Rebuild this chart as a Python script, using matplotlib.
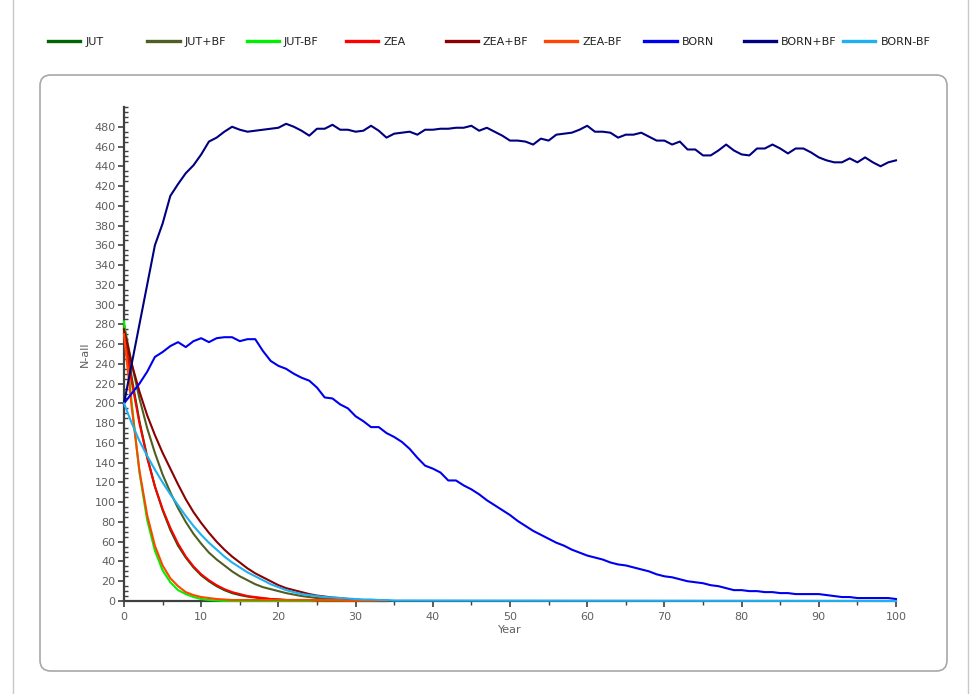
import matplotlib
matplotlib.use("Agg")
import matplotlib.pyplot as plt
from matplotlib.lines import Line2D
from matplotlib.patches import FancyBboxPatch
from matplotlib.ticker import FixedLocator, MultipleLocator

W, H = 972, 694

# --- data ---
SERIES = ["JUT", "JUT+BF", "JUT-BF", "ZEA", "ZEA+BF", "ZEA-BF", "BORN", "BORN+BF", "BORN-BF"]
COLORS = ["#006400", "#4F5F22", "#00F000", "#FF0000", "#8B0000", "#FF4500", "#0000F0", "#000080", "#1EB0F0"]

years_full = list(range(101))
years_short = list(range(35))
years_born_bf = list(range(36)) + [100]

jut = [278, 226, 182, 146, 116, 92, 72, 56, 44, 34, 26, 20, 15, 11, 8, 6, 4.5, 3.5, 2.5, 2,
       1.5, 1, 1, 0.5, 0.5, 0.5, 0, 0, 0, 0, 0, 0, 0, 0, 0]
jut_bf = [280, 240, 205, 175, 150, 128, 110, 94, 80, 68, 58, 49, 42, 36, 30, 25, 21, 17, 14, 12,
          10, 8, 6.5, 5, 4, 3, 2.5, 2, 1.5, 1, 1, 0.5, 0.5, 0, 0]
jut_minus_bf = [283, 200, 130, 82, 51, 31, 19, 11, 7, 4, 2, 1, 0.5, 0, 0, 0, 0, 0, 0, 0,
                0, 0, 0, 0, 0, 0, 0, 0, 0, 0, 0, 0, 0, 0, 0]
zea = [270, 222, 180, 145, 116, 93, 74, 58, 45, 35, 27, 21, 16, 12, 9, 7, 5, 4, 3, 2,
       1.5, 1, 1, 1, 1, 0.5, 0.5, 0.5, 0.5, 0.5, 0.5, 0.5, 0.5, 0.5, 0.5]
zea_bf = [275, 240, 212, 188, 168, 150, 134, 118, 103, 90, 79, 69, 60, 52, 45, 39, 33, 28, 24, 20,
          16, 13, 11, 9, 7, 5.5, 4.5, 3.5, 3, 2, 1.5, 1, 1, 0.5, 0.5]
zea_minus_bf = [270, 196, 132, 87, 56, 36, 23, 15, 9, 6, 4, 3, 2, 1.5, 1, 1, 1, 1, 1, 1,
                1, 1, 1, 1, 1, 1, 1, 1, 1, 0.5, 0.5, 0.5, 0.5, 0.5, 0.5]
born = [200, 210, 220, 232, 247, 252, 258, 262, 257, 263, 266, 262, 266, 267, 267, 263, 265, 265, 253, 243,
        238, 235, 230, 226, 223, 216, 206, 205, 199, 195, 187, 182, 176, 176, 170, 166, 161, 154, 145, 137,
        134, 130, 122, 122, 117, 113, 108, 102, 97, 92, 87, 81, 76, 71, 67, 63, 59, 56, 52, 49,
        46, 44, 42, 39, 37, 36, 34, 32, 30, 27, 25, 24, 22, 20, 19, 18, 16, 15, 13, 11,
        11, 10, 10, 9, 9, 8, 8, 7, 7, 7, 7, 6, 5, 4, 4, 3, 3, 3, 3, 3, 2]
born_bf = [200, 240, 280, 320, 360, 382, 410, 422, 433, 441, 452, 465, 469, 475, 480, 477, 475, 476, 477, 478,
           479, 483, 480, 476, 471, 478, 478, 482, 477, 477, 475, 476, 481, 476, 469, 473, 474, 475, 472, 477,
           477, 478, 478, 479, 479, 481, 476, 479, 475, 471, 466, 466, 465, 462, 468, 466, 472, 473, 474, 477,
           481, 475, 475, 474, 469, 472, 472, 474, 470, 466, 466, 462, 465, 457, 457, 451, 451, 456, 462, 456,
           452, 451, 458, 458, 462, 458, 453, 458, 458, 454, 449, 446, 444, 444, 448, 444, 449, 444, 440, 444, 446]
born_minus_bf = [200, 180, 162, 147, 133, 120, 108, 97, 86, 76, 67, 59, 52, 45, 39, 34, 29, 25, 21, 17,
                 14, 11, 9, 7, 6, 5, 4, 3.5, 3, 2.5, 2, 1.5, 1.5, 1, 1, 0.5, 0]

XS = [years_short, years_short, years_short, years_short, years_short, years_short,
      years_full, years_full, years_born_bf]
YS = [jut, jut_bf, jut_minus_bf, zea, zea_bf, zea_minus_bf, born, born_bf, born_minus_bf]

plt.rcParams['font.family'] = ['DejaVu Sans']

fig = plt.figure(figsize=(W / 100, H / 100), dpi=100)
fig.patch.set_facecolor("white")

# outer frame lines and rounded panel, kept behind the axes
for xp in (13, 968):
    fig.add_artist(Line2D([xp / W, xp / W], [0, 1], color="#C8C8C8", lw=1, zorder=-2))
panel = FancyBboxPatch((40 / W, 1 - 671 / H), 907 / W, 596 / H,
                       boxstyle="round,pad=0,rounding_size=0.011",
                       mutation_aspect=W / H, transform=fig.transFigure,
                       facecolor="white", edgecolor="#A8A8A8", lw=1.2, zorder=-1)
fig.add_artist(panel)

ax = fig.add_axes([124 / W, 1 - 601 / H, 772 / W, 494 / H])
ax.set_facecolor("none")
ax.set_zorder(2)

for x, y, c in zip(XS, YS, COLORS):
    ax.plot(x, y, color=c, lw=1.5, zorder=3, clip_on=False)

ax.set_xlim(0, 100)
ax.set_ylim(0, 500)
ax.xaxis.set_major_locator(MultipleLocator(10))
ax.xaxis.set_minor_locator(MultipleLocator(5))
ax.yaxis.set_major_locator(FixedLocator(list(range(0, 481, 20))))
ax.yaxis.set_minor_locator(MultipleLocator(5))

for s in ("top", "right"):
    ax.spines[s].set_visible(False)
for s in ("left", "bottom"):
    ax.spines[s].set_color("#404040")
    ax.spines[s].set_linewidth(1.6)

ax.tick_params(axis="y", which="major", direction="out", length=4, width=1.2,
               color="#404040", labelsize=8, labelcolor="#606060", pad=2)
ax.tick_params(axis="y", which="minor", direction="in", length=3, width=1,
               color="#404040")
ax.tick_params(axis="x", which="major", direction="out", length=4, width=1.2,
               color="#404040", labelsize=8, labelcolor="#606060", pad=4)
ax.tick_params(axis="x", which="minor", direction="out", length=3, width=1,
               color="#404040")

ax.set_xlabel("Year", fontsize=8, color="#606060", labelpad=2)
ax.set_ylabel("N-all", fontsize=8, color="#606060", labelpad=3)

# legend row across the top, one entry per slot
for i, (name, c) in enumerate(zip(SERIES, COLORS)):
    h = Line2D([], [], color=c, lw=2.4)
    fig.legend(handles=[h], labels=[name], loc="center left",
               bbox_to_anchor=((48 + i * 99.4) / W, 1 - 42 / H),
               frameon=False, fontsize=8, handlelength=2.9, handletextpad=0.45,
               borderpad=0, borderaxespad=0, labelcolor="#202020")

fig.savefig("out.png", dpi=100)
